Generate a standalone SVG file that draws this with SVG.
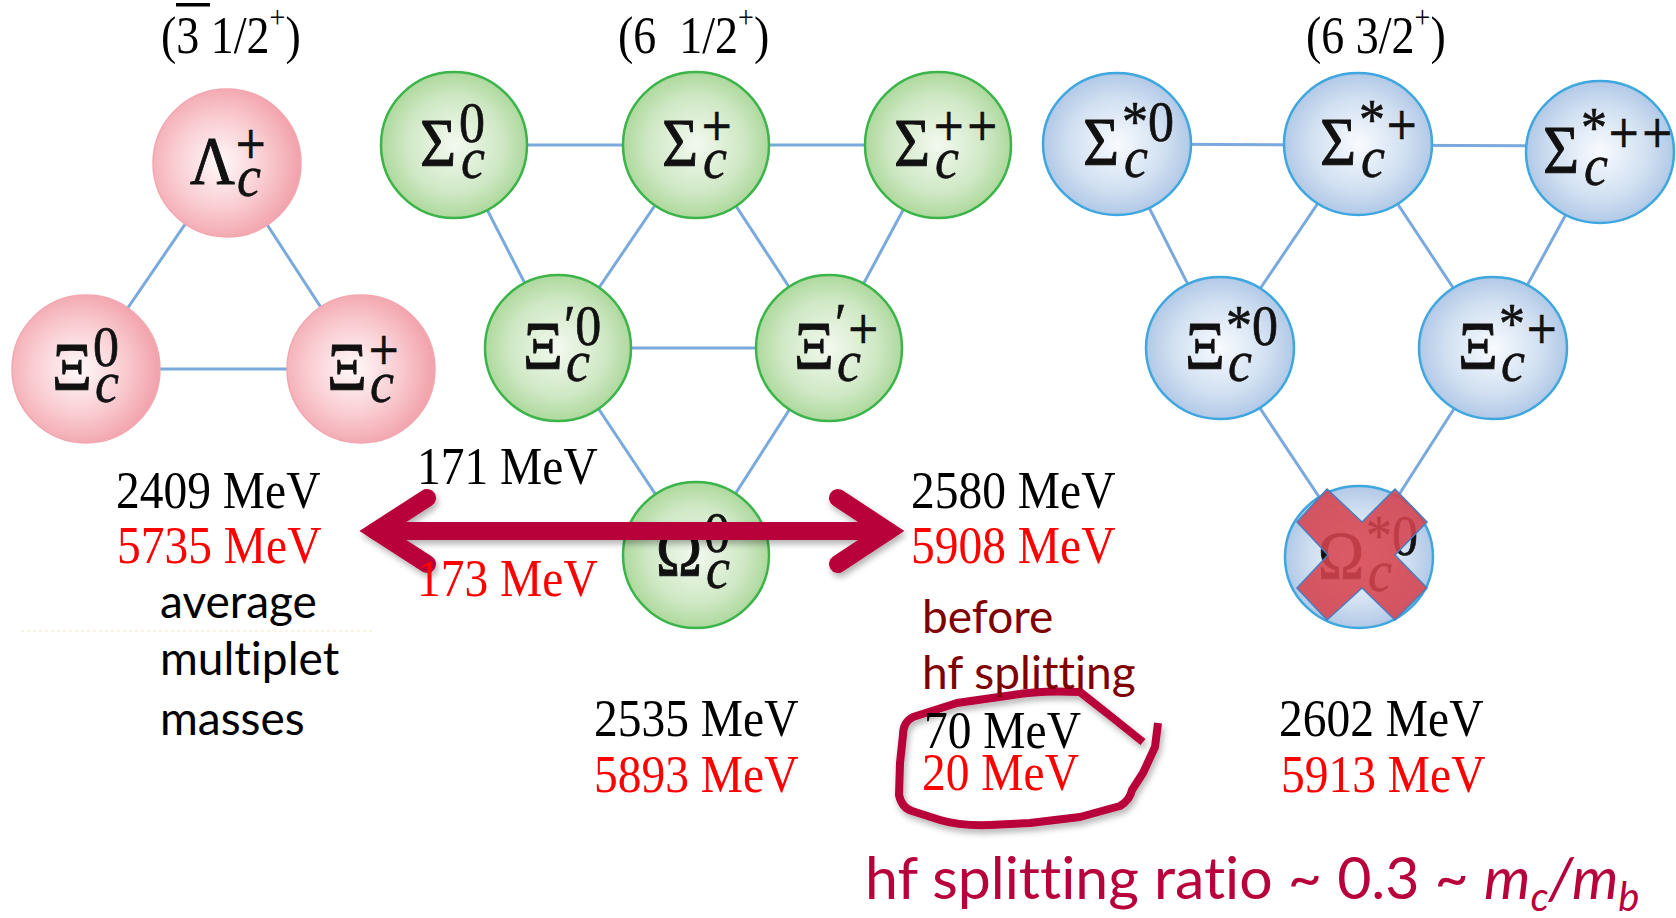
<svg xmlns="http://www.w3.org/2000/svg" width="1676" height="918" viewBox="0 0 1676 918">
<style>
.bg{fill:#ffffff}
.ln{stroke:#7aa9de;stroke-width:3;fill:none}
.cr{fill:url(#gRed);stroke:#f2a7b0;stroke-width:1.5}
.cg{fill:url(#gGreen);stroke:#3bb44a;stroke-width:2.5}
.cb{fill:url(#gBlue);stroke:#3ea7df;stroke-width:2.5}
.gk{font-family:"Liberation Serif","DejaVu Serif",serif;font-size:62px;fill:#111;stroke:#111;stroke-width:0.9}
.sp{font-family:"Liberation Serif","DejaVu Serif",serif;font-size:52px;fill:#111;stroke:#111;stroke-width:0.6}
.pl{font-family:"DejaVu Sans",sans-serif;font-size:40px;stroke-width:0.3}
.sb{font-family:"Liberation Serif","DejaVu Serif",serif;font-size:54px;font-style:italic;fill:#111;stroke:#111;stroke-width:0.5}
.ti{font-family:"Liberation Serif",serif;font-size:46px;fill:#000}
.mv{font-family:"Liberation Serif",serif;font-size:47.5px;fill:#000}
.rd{fill:#ff0000}
.sn{font-family:Lato,"Liberation Sans",sans-serif;font-size:46px;fill:#000;font-variant-ligatures:none}
.mr{fill:#7f0000}
.cm{fill:#b8003a}
.big{font-size:59px}
</style>
<defs>
<radialGradient id="gRed" cx="45%" cy="50%" r="55%">
<stop offset="0" stop-color="#fff9fa"/>
<stop offset="0.55" stop-color="#f9cdd2"/>
<stop offset="1" stop-color="#f2a1aa"/>
</radialGradient>
<radialGradient id="gGreen" cx="50%" cy="50%" r="55%">
<stop offset="0" stop-color="#f3f9f0"/>
<stop offset="0.6" stop-color="#cfe8c4"/>
<stop offset="1" stop-color="#a4d492"/>
</radialGradient>
<radialGradient id="gBlue" cx="50%" cy="50%" r="55%">
<stop offset="0" stop-color="#f8fbfe"/>
<stop offset="0.6" stop-color="#d0dff1"/>
<stop offset="1" stop-color="#a8c2e3"/>
</radialGradient>
<filter id="sh" x="-10%" y="-30%" width="120%" height="160%">
<feDropShadow dx="2" dy="4" stdDeviation="3" flood-color="#000" flood-opacity="0.3"/>
</filter>
</defs>
<rect class="bg" x="0" y="0" width="1676" height="918"/>

<g id="titles">
<text class="ti" transform="translate(161,53) scale(1,1.13)">(3 1/2<tspan font-size="28" dy="-22">+</tspan><tspan dy="22">)</tspan></text>
<rect x="176" y="3" width="34" height="3.5" fill="#000"/>
<text class="ti" transform="translate(618,53) scale(1,1.13)">(6&#160; 1/2<tspan font-size="28" dy="-22">+</tspan><tspan dy="22">)</tspan></text>
<text class="ti" transform="translate(1306,53) scale(1,1.13)">(6 3/2<tspan font-size="28" dy="-22">+</tspan><tspan dy="22">)</tspan></text>
</g>

<g id="connectors">
<line class="ln" x1="227" y1="163" x2="86" y2="369"/>
<line class="ln" x1="227" y1="163" x2="361" y2="369"/>
<line class="ln" x1="86" y1="369" x2="361" y2="369"/>
<line class="ln" x1="454" y1="145" x2="938" y2="145"/>
<line class="ln" x1="454" y1="145" x2="558" y2="348"/>
<line class="ln" x1="696" y1="145" x2="558" y2="348"/>
<line class="ln" x1="696" y1="145" x2="829" y2="348"/>
<line class="ln" x1="938" y1="145" x2="829" y2="348"/>
<line class="ln" x1="558" y1="348" x2="829" y2="348"/>
<line class="ln" x1="558" y1="348" x2="696" y2="555"/>
<line class="ln" x1="829" y1="348" x2="696" y2="555"/>
<line class="ln" x1="1117" y1="144" x2="1600" y2="146"/>
<line class="ln" x1="1117" y1="144" x2="1220" y2="348"/>
<line class="ln" x1="1358" y1="144" x2="1220" y2="348"/>
<line class="ln" x1="1358" y1="144" x2="1493" y2="348"/>
<line class="ln" x1="1600" y1="152" x2="1493" y2="348"/>
<line class="ln" x1="1220" y1="348" x2="1359" y2="557"/>
<line class="ln" x1="1493" y1="348" x2="1359" y2="557"/>
</g>

<g id="n-lambda">
<circle class="cr" cx="227" cy="163" r="74"/>
<g transform="translate(227,163) scale(1,1.1)"><text class="gk" x="-37" y="18">Λ</text><text class="sp" x="7" y="-5"><tspan class="pl">+</tspan></text><text class="sb" x="10" y="30">c</text></g>
</g>
<g id="n-xi0">
<circle class="cr" cx="86" cy="369" r="74"/>
<g transform="translate(86,369) scale(1,1.1)"><text class="gk" x="-34" y="18">Ξ</text><text class="sp" x="7" y="-3">0</text><text class="sb" x="9" y="30">c</text></g>
</g>
<g id="n-xip">
<circle class="cr" cx="361" cy="369" r="74"/>
<g transform="translate(361,369) scale(1,1.1)"><text class="gk" x="-34" y="18">Ξ</text><text class="sp" x="6" y="-5"><tspan class="pl">+</tspan></text><text class="sb" x="9" y="30">c</text></g>
</g>

<g id="n-sigma0">
<circle class="cg" cx="454" cy="145" r="73"/>
<g transform="translate(454,145) scale(1,1.1)"><text class="gk" x="-34" y="18">Σ</text><text class="sp" x="5" y="-3">0</text><text class="sb" x="7" y="30">c</text></g>
</g>
<g id="n-sigmap">
<circle class="cg" cx="696" cy="145" r="73"/>
<g transform="translate(696,145) scale(1,1.1)"><text class="gk" x="-34" y="18">Σ</text><text class="sp" x="4" y="-5"><tspan class="pl">+</tspan></text><text class="sb" x="7" y="30">c</text></g>
</g>
<g id="n-sigmapp">
<circle class="cg" cx="938" cy="145" r="73"/>
<g transform="translate(938,145) scale(1,1.1)"><text class="gk" x="-44" y="18">Σ</text><text class="sp" x="-6" y="-5"><tspan class="pl">++</tspan></text><text class="sb" x="-3" y="30">c</text></g>
</g>
<g id="n-xiprime0">
<circle class="cg" cx="558" cy="348" r="73"/>
<g transform="translate(558,348) scale(1,1.1)"><text class="gk" x="-35" y="18">Ξ</text><text class="sp" x="6" y="-3">′0</text><text class="sb" x="8" y="30">c</text></g>
</g>
<g id="n-xiprimep">
<circle class="cg" cx="829" cy="348" r="73"/>
<g transform="translate(829,348) scale(1,1.1)"><text class="gk" x="-35" y="18">Ξ</text><text class="sp" x="6" y="-5">′<tspan class="pl">+</tspan></text><text class="sb" x="8" y="30">c</text></g>
</g>
<g id="n-omega0">
<circle class="cg" cx="696" cy="555" r="73"/>
<g transform="translate(696,555) scale(1,1.1)"><text class="gk" x="-40" y="18">Ω</text><text class="sp" x="8" y="-3">0</text><text class="sb" x="10" y="30">c</text></g>
</g>

<g id="n-sigmas0">
<ellipse class="cb" cx="1117" cy="144" rx="74" ry="71"/>
<g transform="translate(1117,144) scale(1,1.1)"><text class="gk" x="-34" y="18">Σ</text><text class="sp" x="5" y="-3">*0</text><text class="sb" x="7" y="30">c</text></g>
</g>
<g id="n-sigmasp">
<ellipse class="cb" cx="1358" cy="144" rx="74" ry="71"/>
<g transform="translate(1358,144) scale(1,1.1)"><text class="gk" x="-38" y="18">Σ</text><text class="sp" x="1" y="-5">*<tspan class="pl">+</tspan></text><text class="sb" x="3" y="30">c</text></g>
</g>
<g id="n-sigmaspp">
<ellipse class="cb" cx="1600" cy="152" rx="74" ry="71"/>
<g transform="translate(1600,152) scale(1,1.1)"><text class="gk" x="-57" y="18">Σ</text><text class="sp" x="-19" y="-5">*<tspan class="pl">++</tspan></text><text class="sb" x="-16" y="30">c</text></g>
</g>
<g id="n-xis0">
<ellipse class="cb" cx="1220" cy="348" rx="74" ry="71"/>
<g transform="translate(1220,348) scale(1,1.1)"><text class="gk" x="-35" y="18">Ξ</text><text class="sp" x="6" y="-3">*0</text><text class="sb" x="8" y="30">c</text></g>
</g>
<g id="n-xisp">
<ellipse class="cb" cx="1493" cy="348" rx="74" ry="71"/>
<g transform="translate(1493,348) scale(1,1.1)"><text class="gk" x="-35" y="18">Ξ</text><text class="sp" x="6" y="-5">*<tspan class="pl">+</tspan></text><text class="sb" x="8" y="30">c</text></g>
</g>
<g id="n-omegas0">
<ellipse class="cb" cx="1359" cy="557" rx="74" ry="71"/>
<g transform="translate(1359,557) scale(1,1.1)"><text class="gk" x="-41" y="19">Ω</text><text class="sp" x="7" y="-2">*0</text><text class="sb" x="9" y="31">c</text></g>
<polygon points="1327,489 1362,522 1395,489 1427,522 1395,555 1427,588 1395,620 1362,588 1327,620 1297,588 1328,555 1297,522" fill="#d6434e" fill-opacity="0.88" stroke="#4a7cc0" stroke-width="1.5" stroke-linejoin="miter"/>
</g>

<line x1="21" y1="631" x2="374" y2="631" stroke="#f1e4bf" stroke-width="2" stroke-dasharray="3 3" opacity="0.45"/>

<g id="arrow" filter="url(#sh)" fill="none" stroke="#b8003a" stroke-width="18" stroke-linecap="round" stroke-linejoin="miter" stroke-miterlimit="6">
<path d="M376,531 L888,531"/>
<path d="M427,498 L376,531 L427,564"/>
<path d="M838,498 L888,531 L838,564"/>
</g>

<g id="loop" filter="url(#sh)">
<path d="M1143,742 L1113,718 L1080,692 Q1040,690 1013,695 L957,703 L913,717 Q903,722 903,735 L900,763 L899,795 Q902,808 912,811 L940,820 Q960,826 990,825 L1030,823 L1080,817 L1120,806 Q1130,800 1132,790 L1143,773 L1155,747 L1158,723" fill="none" stroke="#b8003a" stroke-width="8" stroke-linecap="butt" stroke-linejoin="round"/>
</g>

<g id="labels">
<text class="mv" transform="translate(116,508) scale(1,1.1)">2409 MeV</text>
<text class="mv rd" transform="translate(117,563) scale(1,1.1)">5735 MeV</text>
<text class="mv" transform="translate(417,484) scale(1,1.1)">171 MeV</text>
<text class="mv rd" transform="translate(417,596) scale(1,1.1)">173 MeV</text>
<text class="mv" transform="translate(911,508) scale(1,1.1)">2580 MeV</text>
<text class="mv rd" transform="translate(911,563) scale(1,1.1)">5908 MeV</text>
<text class="mv" transform="translate(594,736) scale(1,1.1)">2535 MeV</text>
<text class="mv rd" transform="translate(594,792) scale(1,1.1)">5893 MeV</text>
<text class="mv" transform="translate(924,748) scale(1,1.1)">70 MeV</text>
<text class="mv rd" transform="translate(922,790) scale(1,1.1)">20 MeV</text>
<text class="mv" transform="translate(1279,736) scale(1,1.1)">2602 MeV</text>
<text class="mv rd" transform="translate(1281,792) scale(1,1.1)">5913 MeV</text>
<text class="sn" x="160" y="618">average</text>
<text class="sn" x="160" y="675">multiplet</text>
<text class="sn" x="160" y="735">masses</text>
<text class="sn mr" x="922" y="633">before</text>
<text class="sn mr" x="922" y="689">hf splitting</text>
<text class="sn cm big" x="865" y="899">hf splitting ratio ~ 0.3 ~ <tspan font-style="italic">m</tspan><tspan font-style="italic" font-size="40" dy="12">c</tspan><tspan font-style="italic" dy="-12">/m</tspan><tspan font-style="italic" font-size="40" dy="12">b</tspan></text>
</g>
</svg>
